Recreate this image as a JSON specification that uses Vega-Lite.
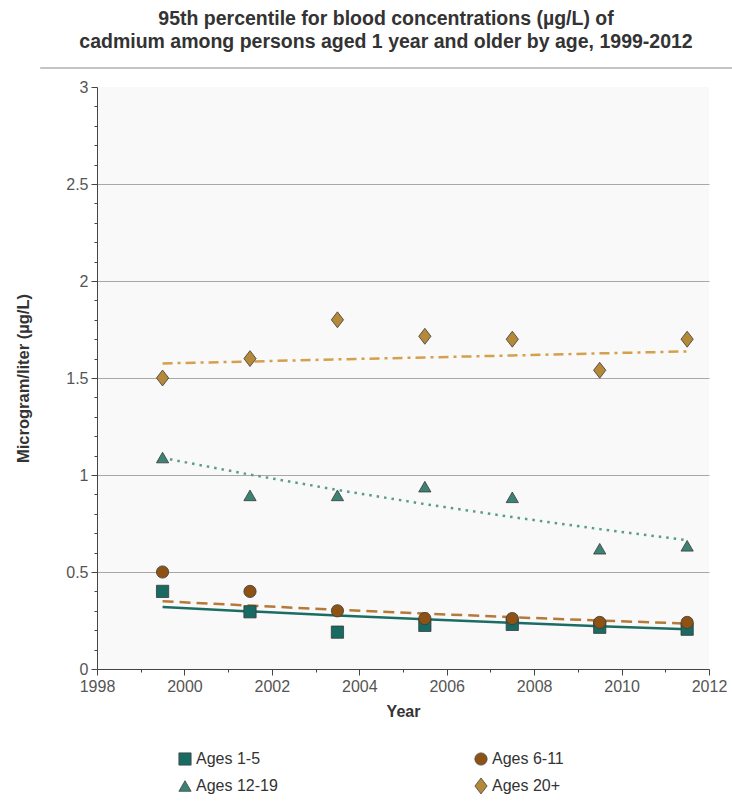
{
  "$schema": "https://vega.github.io/schema/vega-lite/v6.json",
  "width": 612,
  "height": 582,
  "autosize": "none",
  "padding": {"left": 97, "top": 87, "right": 23, "bottom": 136},
  "background": "white",
  "config": {
    "font": "Liberation Sans",
    "view": {"fill": "#f9f9f9", "stroke": null}
  },
  "title": {
    "text": ["95th percentile for blood concentrations (µg/L) of", "cadmium among persons aged 1 year and older by age, 1999-2012"],
    "anchor": "middle",
    "frame": "group",
    "dx": -17,
    "offset": 14,
    "fontSize": 19.5,
    "fontWeight": "bold",
    "color": "#333",
    "lineHeight": 23
  },
  "datasets": {
    "pts": [
      {"group": "Ages 1-5", "year": 1999.5, "value": 0.40},
      {"group": "Ages 1-5", "year": 2001.5, "value": 0.295},
      {"group": "Ages 1-5", "year": 2003.5, "value": 0.19},
      {"group": "Ages 1-5", "year": 2005.5, "value": 0.225},
      {"group": "Ages 1-5", "year": 2007.5, "value": 0.23},
      {"group": "Ages 1-5", "year": 2009.5, "value": 0.215},
      {"group": "Ages 1-5", "year": 2011.5, "value": 0.205},
      {"group": "Ages 6-11", "year": 1999.5, "value": 0.50},
      {"group": "Ages 6-11", "year": 2001.5, "value": 0.40},
      {"group": "Ages 6-11", "year": 2003.5, "value": 0.30},
      {"group": "Ages 6-11", "year": 2005.5, "value": 0.26},
      {"group": "Ages 6-11", "year": 2007.5, "value": 0.26},
      {"group": "Ages 6-11", "year": 2009.5, "value": 0.24},
      {"group": "Ages 6-11", "year": 2011.5, "value": 0.24},
      {"group": "Ages 12-19", "year": 1999.5, "value": 1.09},
      {"group": "Ages 12-19", "year": 2001.5, "value": 0.895},
      {"group": "Ages 12-19", "year": 2003.5, "value": 0.895},
      {"group": "Ages 12-19", "year": 2005.5, "value": 0.94},
      {"group": "Ages 12-19", "year": 2007.5, "value": 0.885},
      {"group": "Ages 12-19", "year": 2009.5, "value": 0.62},
      {"group": "Ages 12-19", "year": 2011.5, "value": 0.635},
      {"group": "Ages 20+", "year": 1999.5, "value": 1.50},
      {"group": "Ages 20+", "year": 2001.5, "value": 1.60},
      {"group": "Ages 20+", "year": 2003.5, "value": 1.80},
      {"group": "Ages 20+", "year": 2005.5, "value": 1.715},
      {"group": "Ages 20+", "year": 2007.5, "value": 1.70},
      {"group": "Ages 20+", "year": 2009.5, "value": 1.54},
      {"group": "Ages 20+", "year": 2011.5, "value": 1.70}
    ],
    "trend": [
      {"group": "Ages 1-5", "year": 1999.5, "value": 0.320},
      {"group": "Ages 1-5", "year": 2001.5, "value": 0.297},
      {"group": "Ages 1-5", "year": 2003.5, "value": 0.276},
      {"group": "Ages 1-5", "year": 2005.5, "value": 0.256},
      {"group": "Ages 1-5", "year": 2007.5, "value": 0.238},
      {"group": "Ages 1-5", "year": 2009.5, "value": 0.221},
      {"group": "Ages 1-5", "year": 2011.5, "value": 0.205},
      {"group": "Ages 6-11", "year": 1999.5, "value": 0.349},
      {"group": "Ages 6-11", "year": 2001.5, "value": 0.327},
      {"group": "Ages 6-11", "year": 2003.5, "value": 0.305},
      {"group": "Ages 6-11", "year": 2005.5, "value": 0.286},
      {"group": "Ages 6-11", "year": 2007.5, "value": 0.267},
      {"group": "Ages 6-11", "year": 2009.5, "value": 0.250},
      {"group": "Ages 6-11", "year": 2011.5, "value": 0.234},
      {"group": "Ages 12-19", "year": 1999.5, "value": 1.088},
      {"group": "Ages 12-19", "year": 2001.5, "value": 1.002},
      {"group": "Ages 12-19", "year": 2003.5, "value": 0.923},
      {"group": "Ages 12-19", "year": 2005.5, "value": 0.850},
      {"group": "Ages 12-19", "year": 2007.5, "value": 0.783},
      {"group": "Ages 12-19", "year": 2009.5, "value": 0.721},
      {"group": "Ages 12-19", "year": 2011.5, "value": 0.664},
      {"group": "Ages 20+", "year": 1999.5, "value": 1.575},
      {"group": "Ages 20+", "year": 2001.5, "value": 1.585},
      {"group": "Ages 20+", "year": 2003.5, "value": 1.596},
      {"group": "Ages 20+", "year": 2005.5, "value": 1.606},
      {"group": "Ages 20+", "year": 2007.5, "value": 1.616},
      {"group": "Ages 20+", "year": 2009.5, "value": 1.627},
      {"group": "Ages 20+", "year": 2011.5, "value": 1.637}
    ]
  },
  "layer": [
    {
      "data": {"values": [{}]},
      "mark": {"type": "rule", "color": "#c4c4c4", "strokeWidth": 2},
      "encoding": {
        "x": {"datum": 1996.7, "type": "quantitative", "axis": null},
        "x2": {"datum": 2012.53},
        "y": {"datum": 3.098, "type": "quantitative", "axis": null}
      }
    },
    {
      "data": {"name": "trend"},
      "transform": [{"filter": {"field": "group", "equal": "Ages 1-5"}}],
      "mark": {"type": "line", "strokeWidth": 2.5, "color": "#1b6d64"},
      "encoding": {
        "x": {
          "field": "year", "type": "quantitative",
          "scale": {"domain": [1998, 2012], "nice": false, "zero": false},
          "axis": {"orient": "bottom", "values": [1999, 2001, 2003, 2005, 2007, 2009, 2011], "labels": false, "domain": false, "grid": false, "ticks": true, "tickSize": 3, "tickColor": "#444", "title": null}
        },
        "y": {
          "field": "value", "type": "quantitative",
          "scale": {"domain": [0, 3], "nice": false},
          "axis": {"orient": "left", "values": [0.1, 0.2, 0.3, 0.4, 0.6, 0.7, 0.8, 0.9, 1.1, 1.2, 1.3, 1.4, 1.6, 1.7, 1.8, 1.9, 2.1, 2.2, 2.3, 2.4, 2.6, 2.7, 2.8, 2.9], "labels": false, "domain": false, "grid": false, "ticks": true, "tickSize": 3, "tickColor": "#444", "title": null}
        }
      }
    },
    {
      "data": {"name": "trend"},
      "transform": [{"filter": {"field": "group", "equal": "Ages 6-11"}}],
      "mark": {"type": "line", "strokeWidth": 2.5, "color": "#b5793a", "strokeDash": [11, 6]},
      "encoding": {
        "x": {"field": "year", "type": "quantitative", "axis": null},
        "y": {"field": "value", "type": "quantitative", "axis": null}
      }
    },
    {
      "data": {"name": "trend"},
      "transform": [{"filter": {"field": "group", "equal": "Ages 12-19"}}],
      "mark": {"type": "line", "strokeWidth": 2.5, "color": "#5b9b8f", "strokeDash": [2.5, 5]},
      "encoding": {
        "x": {"field": "year", "type": "quantitative", "axis": null},
        "y": {"field": "value", "type": "quantitative", "axis": null}
      }
    },
    {
      "data": {"name": "trend"},
      "transform": [{"filter": {"field": "group", "equal": "Ages 20+"}}],
      "mark": {"type": "line", "strokeWidth": 2.5, "color": "#d4a04c", "strokeDash": [10, 5, 3, 5]},
      "encoding": {
        "x": {"field": "year", "type": "quantitative", "axis": null},
        "y": {"field": "value", "type": "quantitative", "axis": null}
      }
    },
    {
      "data": {"name": "pts"},
      "mark": {"type": "point", "filled": true, "size": 150, "stroke": "#3a3a3a", "strokeWidth": 0.8, "opacity": 1},
      "encoding": {
        "x": {
          "field": "year", "type": "quantitative",
          "scale": {"domain": [1998, 2012], "nice": false, "zero": false},
          "axis": {"orient": "bottom", "values": [1998, 2000, 2002, 2004, 2006, 2008, 2010, 2012], "format": "d", "grid": false, "tickSize": 6, "tickColor": "#444", "domainColor": "#444", "labelFontSize": 16, "labelColor": "#555", "labelPadding": 3, "labelFlush": false, "title": "Year", "titleFontSize": 16, "titleFontWeight": "bold", "titleColor": "#333", "titlePadding": 9}
        },
        "y": {
          "field": "value", "type": "quantitative",
          "scale": {"domain": [0, 3], "nice": false},
          "axis": {"orient": "left", "values": [0, 0.5, 1, 1.5, 2, 2.5, 3], "format": "~g", "grid": true, "gridColor": {"condition": {"test": "datum.value >= 3", "value": "transparent"}, "value": "#a8a8a8"}, "tickSize": 6, "tickColor": "#444", "domainColor": "#444", "labelFontSize": 16, "labelColor": "#555", "labelPadding": 3, "labelFlush": false, "title": "Microgram/liter (µg/L)", "titleFontSize": 16.5, "titleFontWeight": "bold", "titleColor": "#333", "titlePadding": 34}
        },
        "color": {
          "field": "group", "type": "nominal",
          "scale": {"domain": ["Ages 1-5", "Ages 6-11", "Ages 12-19", "Ages 20+"], "range": ["#186b62", "#8e5214", "#3c8275", "#b5893a"]},
          "legend": {"title": null, "orient": "none", "legendX": 80, "legendY": 664, "direction": "horizontal", "columns": 2, "columnPadding": 195, "rowPadding": 9, "labelFontSize": 16, "labelColor": "#333", "labelOffset": 3, "symbolSize": 150, "symbolStrokeColor": "#444", "symbolStrokeWidth": 0.8}
        },
        "shape": {
          "field": "group", "type": "nominal",
          "scale": {"domain": ["Ages 1-5", "Ages 6-11", "Ages 12-19", "Ages 20+"], "range": ["square", "circle", "triangle-up", "M0,-1.3L1,0L0,1.3L-1,0Z"]},
          "legend": {"title": null, "orient": "none", "legendX": 80, "legendY": 664, "direction": "horizontal", "columns": 2, "columnPadding": 195, "rowPadding": 9, "labelFontSize": 16, "labelColor": "#333", "labelOffset": 3, "symbolSize": 150, "symbolStrokeColor": "#444", "symbolStrokeWidth": 0.8}
        }
      }
    }
  ],
  "resolve": {"axis": {"x": "independent", "y": "independent"}}
}
